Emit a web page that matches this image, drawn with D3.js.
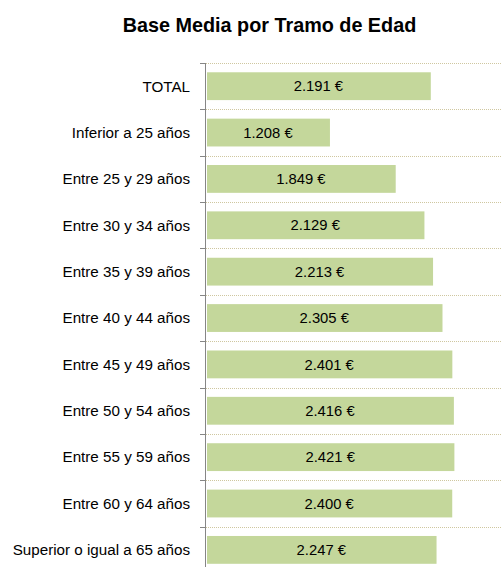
<!DOCTYPE html>
<html>
<head>
<meta charset="utf-8">
<script src="https://cdn.jsdelivr.net/npm/d3@7"></script>
<style>
  body { margin: 0; background: #fff; }
  text { font-family: "Liberation Sans", Arial, sans-serif; fill: #000; }
</style>
</head>
<body>
<svg class="chart" width="502" height="567"></svg>
<script>
var width = 502;
var height = 567;

// data
var categories = ["TOTAL", "Inferior a 25 años", "Entre 25 y 29 años", "Entre 30 y 34 años",
  "Entre 35 y 39 años", "Entre 40 y 44 años", "Entre 45 y 49 años", "Entre 50 y 54 años",
  "Entre 55 y 59 años", "Entre 60 y 64 años", "Superior o igual a 65 años"];
var values = [2191, 1208, 1849, 2129, 2213, 2305, 2401, 2416, 2421, 2400, 2247];
var xDomain = [0, 3000];
var title = "Base Media por Tramo de Edad";

var data = categories.map(function(c, i) { return {cat: c, value: values[i]}; });

var svg = d3.select(".chart");

var x = d3.scaleLinear()
    .domain(xDomain)
    .range([206, 206 + 3000 * 0.1026]);

var y = d3.scaleBand()
    .domain(categories)
    .range([63, 63 + 11 * 46.37])
    .paddingInner(0.4)
    .paddingOuter(0.2);

var fmt = d3.formatLocale({decimal: ",", thousands: ".", grouping: [3], currency: ["", " €"]}).format("$,.0f");

// title
svg.append("text")
    .attr("x", 269.5)
    .attr("y", 32)
    .attr("text-anchor", "middle")
    .attr("font-weight", "bold")
    .attr("font-size", "19.8px")
    .text(title);

// band boundaries (gridlines + ticks)
var gap = (y.step() - y.bandwidth()) / 2;
var bounds = categories.map(function(c) { return y(c) - gap; });

svg.append("g")
    .selectAll("line")
    .data(bounds)
    .enter().append("line")
    .attr("x1", x(0))
    .attr("x2", x(xDomain[1]))
    .attr("y1", function(d) { return Math.round(d) + 0.5; })
    .attr("y2", function(d) { return Math.round(d) + 0.5; })
    .attr("stroke", "#cfc7a0")
    .attr("stroke-width", 1)
    .attr("stroke-dasharray", "1,1");

// bars
svg.append("g")
    .selectAll("rect")
    .data(data)
    .enter().append("rect")
    .attr("x", x(0) + 1)
    .attr("y", function(d) { return y(d.cat); })
    .attr("width", function(d) { return x(d.value) - x(0) - 1; })
    .attr("height", y.bandwidth())
    .attr("fill", "#c4d79b");

// value labels
svg.append("g")
    .selectAll("text")
    .data(data)
    .enter().append("text")
    .attr("x", function(d) { return (x(0) + x(d.value)) / 2; })
    .attr("y", function(d) { return y(d.cat) + y.bandwidth() / 2; })
    .attr("dy", "0.35em")
    .attr("text-anchor", "middle")
    .attr("font-size", "14.8px")
    .text(function(d) { return fmt(d.value); });

// vertical axis
var axis = svg.append("g").attr("stroke", "#868686");
axis.append("line")
    .attr("x1", 205.5).attr("x2", 205.5)
    .attr("y1", bounds[0]).attr("y2", height);
axis.selectAll(".tick")
    .data(bounds)
    .enter().append("line")
    .attr("class", "tick")
    .attr("x1", 200).attr("x2", 206)
    .attr("y1", function(d) { return Math.round(d) + 0.5; })
    .attr("y2", function(d) { return Math.round(d) + 0.5; });

// category labels
svg.append("g")
    .selectAll("text")
    .data(categories)
    .enter().append("text")
    .attr("x", 190)
    .attr("y", function(d) { return y(d) + y.bandwidth() / 2; })
    .attr("dy", "0.35em")
    .attr("text-anchor", "end")
    .attr("font-size", "15.2px")
    .text(function(d) { return d; });
</script>
</body>
</html>
